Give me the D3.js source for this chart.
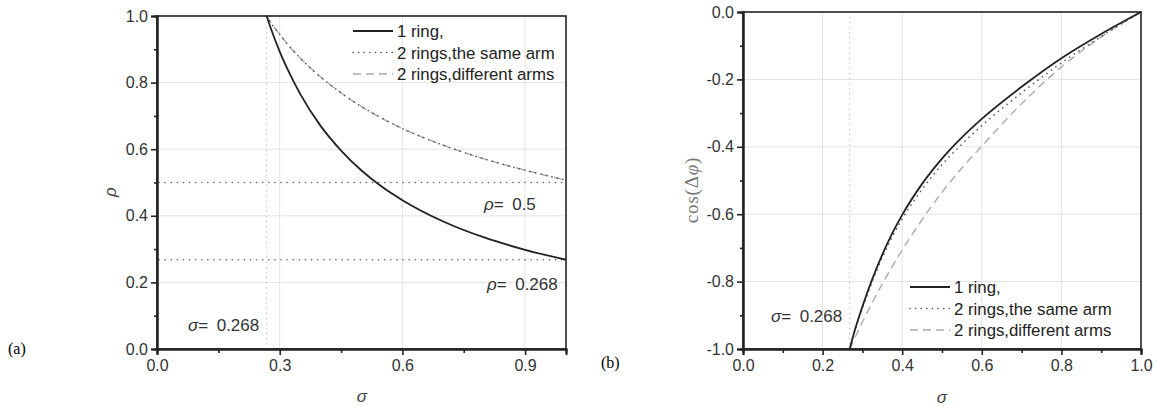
<!DOCTYPE html>
<html>
<head>
<meta charset="utf-8">
<script src="https://cdn.jsdelivr.net/npm/d3@7"></script>
<style>
  body { margin: 0; background: #fff; }
  text { font-family: "Liberation Sans", Arial, sans-serif; }
</style>
</head>
<body>
<script>
// (a) 左のグラフ: sigma と rho
const sigmaA = [0.268, 0.28, 0.3, 0.32, 0.35, 0.4, 0.45, 0.5, 0.55, 0.6, 0.7, 0.8, 0.9, 1.0];
const rhoOneRing = [1.0, 0.957, 0.893, 0.838, 0.766, 0.67, 0.596, 0.536, 0.487, 0.447, 0.383, 0.335, 0.298, 0.268];
const rhoSameArm = [1.0, 0.977, 0.945, 0.914, 0.874, 0.817, 0.769, 0.728, 0.693, 0.662, 0.612, 0.571, 0.537, 0.507];
const rhoDiffArms = [1.0, 0.977, 0.945, 0.914, 0.874, 0.817, 0.769, 0.728, 0.693, 0.662, 0.612, 0.571, 0.537, 0.507];

// (b) 右のグラフ: sigma と cos(Δφ)
const sigmaB = [0.268, 0.28, 0.3, 0.325, 0.35, 0.375, 0.4, 0.45, 0.5, 0.55, 0.6, 0.7, 0.8, 0.9, 1.0];
const cosOneRing = [-1.0, -0.948, -0.874, -0.792, -0.72, -0.657, -0.602, -0.51, -0.435, -0.372, -0.317, -0.222, -0.137, -0.065, 0];
const cosSameArm = [-1.0, -0.95, -0.879, -0.799, -0.728, -0.667, -0.614, -0.526, -0.453, -0.392, -0.337, -0.24, -0.151, -0.073, 0];
const cosDiffArms = [-1.0, -0.97, -0.92, -0.862, -0.807, -0.755, -0.706, -0.616, -0.535, -0.463, -0.398, -0.272, -0.163, -0.074, 0];

const legendLabels = ["1 ring,", "2 rings,the same arm", "2 rings,different arms"];

const ticksXA = [0, 0.3, 0.6, 0.9];
const minorXA = [0.15, 0.45, 0.75];
const ticksYA = [0, 0.2, 0.4, 0.6, 0.8, 1.0];
const minorYA = [0.1, 0.3, 0.5, 0.7, 0.9];
const ticksXB = [0, 0.2, 0.4, 0.6, 0.8, 1.0];
const minorXB = [0.1, 0.3, 0.5, 0.7, 0.9];
const ticksYB = [-1.0, -0.8, -0.6, -0.4, -0.2, 0];
const minorYB = [-0.9, -0.7, -0.5, -0.3, -0.1];

const sigma0 = 0.268;

// 線のスタイル
const styles = [
  { stroke: "#222", width: 1.8, dash: null, cap: "butt" },
  { stroke: "#555", width: 1.6, dash: "0.1 5.5", cap: "round" },
  { stroke: "#aaa", width: 1.4, dash: "8 5", cap: "butt" },
];

const svg = d3.select("body").append("svg").attr("width", 1158).attr("height", 407);

const drawPanel = (cfg) => {
  const { x, y } = cfg;
  const g = svg.append("g");
  const [x0, x1] = x.range();
  const [y0, y1] = y.range();

  // グリッド
  g.selectAll(".gx").data(cfg.ticksX.filter((d) => d > x.domain()[0] && d < x.domain()[1]))
    .enter().append("line")
    .attr("x1", (d) => x(d)).attr("x2", (d) => x(d))
    .attr("y1", y0).attr("y2", y1)
    .attr("stroke", "#e4e4e4").attr("stroke-width", 1);
  g.selectAll(".gy").data(cfg.ticksY.filter((d) => d > y.domain()[0] && d < y.domain()[1]))
    .enter().append("line")
    .attr("x1", x0).attr("x2", x1)
    .attr("y1", (d) => y(d)).attr("y2", (d) => y(d))
    .attr("stroke", "#e4e4e4").attr("stroke-width", 1);

  // sigma = 0.268 の縦線
  g.append("line")
    .attr("x1", x(sigma0)).attr("x2", x(sigma0))
    .attr("y1", y0).attr("y2", y1)
    .attr("stroke", "#b5b5b5").attr("stroke-width", 1.2)
    .attr("stroke-dasharray", "0.1 5").attr("stroke-linecap", "round");

  // 横の点線
  (cfg.hLines || []).forEach((v) => {
    g.append("line")
      .attr("x1", x0 + 2).attr("x2", x1)
      .attr("y1", y(v)).attr("y2", y(v))
      .attr("stroke", "#666").attr("stroke-width", 1.6)
      .attr("stroke-dasharray", "0.1 6").attr("stroke-linecap", "round");
  });

  // 曲線
  const line = d3.line().x((d) => x(d[0])).y((d) => y(d[1])).curve(d3.curveMonotoneX);
  [2, 1, 0].forEach((i) => {
    const data = cfg.xs.map((s, j) => [s, cfg.series[i][j]]);
    g.append("path")
      .attr("d", line(data))
      .attr("fill", "none")
      .attr("stroke", styles[i].stroke)
      .attr("stroke-width", styles[i].width)
      .attr("stroke-dasharray", styles[i].dash)
      .attr("stroke-linecap", styles[i].cap);
  });

  // 枠
  g.append("rect")
    .attr("x", x0).attr("y", y1)
    .attr("width", x1 - x0).attr("height", y0 - y1)
    .attr("fill", "none").attr("stroke", "#222").attr("stroke-width", 1.6);

  // 軸
  const fmt = (d) => d3.format(".1f")(d).replace("\u2212", "-");
  g.append("g").attr("transform", `translate(0,${y0})`)
    .call(d3.axisBottom(x).tickValues(cfg.ticksX).tickSize(6).tickPadding(5).tickFormat(fmt));
  g.append("g").attr("transform", `translate(0,${y0})`)
    .call(d3.axisBottom(x).tickValues(cfg.minorX).tickSize(4).tickFormat(""));
  g.append("g").attr("transform", `translate(${x0},0)`)
    .call(d3.axisLeft(y).tickValues(cfg.ticksY).tickSize(6).tickPadding(3).tickFormat(fmt));
  g.append("g").attr("transform", `translate(${x0},0)`)
    .call(d3.axisLeft(y).tickValues(cfg.minorY).tickSize(3).tickFormat(""));
  g.selectAll(".domain").attr("stroke", "#222").attr("stroke-width", 2);
  g.selectAll(".tick line").attr("stroke", "#222").attr("stroke-width", 1.6);
  g.selectAll(".tick text").attr("font-size", 16).attr("fill", "#333")
    .attr("font-family", "'Liberation Sans', Arial, sans-serif");

  // 凡例
  const lg = g.append("g").attr("transform", `translate(${cfg.legend[0]},${cfg.legend[1]})`);
  legendLabels.forEach((lab, i) => {
    const row = lg.append("g").attr("transform", `translate(0,${i * 21.5})`);
    row.append("line").attr("x1", 0).attr("x2", 40).attr("y1", 0).attr("y2", 0)
      .attr("stroke", styles[i].stroke)
      .attr("stroke-width", styles[i].width)
      .attr("stroke-dasharray", styles[i].dash)
      .attr("stroke-linecap", styles[i].cap);
    row.append("text").attr("x", 44).attr("y", 6).attr("font-size", 16.8).attr("fill", "#222")
      .text(lab);
  });

  return g;
};

const xA = d3.scaleLinear().domain([0, 1]).range([157, 566]);
const yA = d3.scaleLinear().domain([0, 1]).range([349, 16]);
const gA = drawPanel({
  x: xA, y: yA,
  xs: sigmaA, series: [rhoOneRing, rhoSameArm, rhoDiffArms],
  ticksX: ticksXA, minorX: minorXA, ticksY: ticksYA, minorY: minorYA,
  hLines: [0.5, 0.268],
  legend: [353, 31],
});

const xB = d3.scaleLinear().domain([0, 1]).range([743, 1141]);
const yB = d3.scaleLinear().domain([-1, 0]).range([349, 12]);
const gB = drawPanel({
  x: xB, y: yB,
  xs: sigmaB, series: [cosOneRing, cosSameArm, cosDiffArms],
  ticksX: ticksXB, minorX: minorXB, ticksY: ticksYB, minorY: minorYB,
  legend: [910, 287],
});

// 注記テキスト
const annot = (g, x, y, sym, val) => {
  const t = g.append("text").attr("x", x).attr("y", y).attr("font-size", 17).attr("fill", "#333");
  t.append("tspan").attr("font-style", "italic").text(sym);
  t.append("tspan").text("=\u2002" + val);
};
annot(gA, 188, 331, "σ", "0.268");
annot(gA, 484, 210, "ρ", "0.5");
annot(gA, 487, 290, "ρ", "0.268");
annot(gB, 771, 322, "σ", "0.268");

// 軸ラベル
svg.append("text").attr("x", 362).attr("y", 402).attr("text-anchor", "middle")
  .attr("font-size", 17).attr("font-style", "italic").attr("fill", "#444").text("σ");
svg.append("text").attr("x", 942).attr("y", 403).attr("text-anchor", "middle")
  .attr("font-size", 17).attr("font-style", "italic").attr("fill", "#444").text("σ");
svg.append("text").attr("transform", "translate(116,192) rotate(-90)").attr("text-anchor", "middle")
  .attr("font-size", 17).attr("font-style", "italic").attr("fill", "#444").text("ρ");
const yl = svg.append("text").attr("transform", "translate(698,190) rotate(-90)").attr("text-anchor", "middle")
  .attr("font-size", 19).attr("letter-spacing", 0.8).attr("fill", "#777")
  .style("font-family", "'Liberation Serif', 'Times New Roman', serif");
yl.append("tspan").text("cos(Δ");
yl.append("tspan").attr("font-style", "italic").text("φ");
yl.append("tspan").text(")");

// パネル記号
svg.append("text").attr("x", 8).attr("y", 354).attr("font-size", 16)
  .style("font-family", "'Liberation Serif', 'Times New Roman', serif").text("(a)");
svg.append("text").attr("x", 601).attr("y", 368).attr("font-size", 16)
  .style("font-family", "'Liberation Serif', 'Times New Roman', serif").text("(b)");
</script>
</body>
</html>
